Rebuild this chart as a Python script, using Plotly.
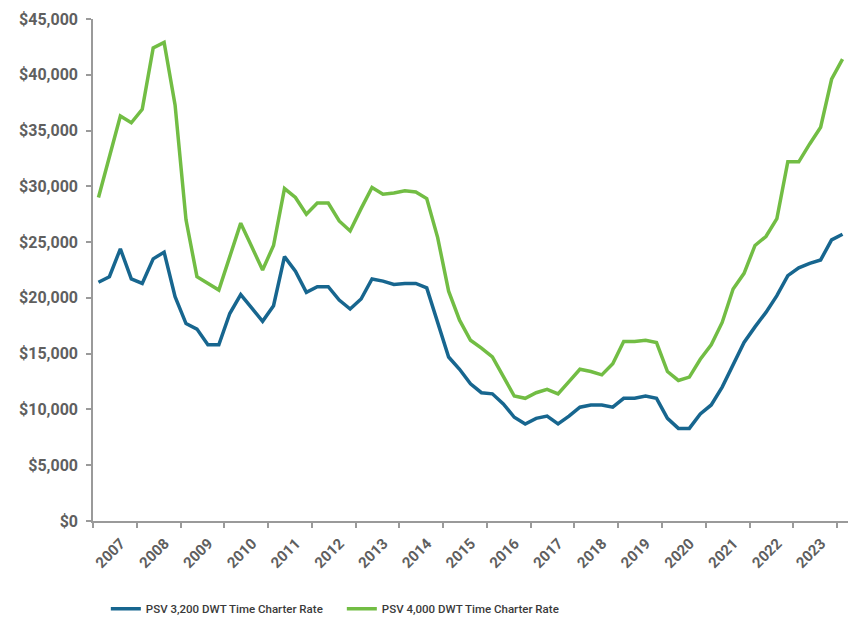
import plotly.graph_objects as go

# Quarterly time-charter rates, 2007 Q1 – 2024 Q1 (USD/day)
years = [str(y) for y in range(2007, 2024)]
quarters = [f"{y} Q{q}" for y in range(2007, 2025) for q in range(1, 5)][:69]

psv_3200 = [
    21400, 21900, 24400, 21700, 21300, 23500, 24100, 20100,
    17700, 17200, 15800, 15800, 18600, 20300, 19100, 17900,
    19300, 23700, 22400, 20500, 21000, 21000, 19800, 19000,
    19900, 21700, 21500, 21200, 21300, 21300, 20900, 17700,
    14700, 13600, 12300, 11500, 11400, 10500, 9300, 8700,
    9200, 9400, 8700, 9400, 10200, 10400, 10400, 10200,
    11000, 11000, 11200, 11000, 9200, 8300, 8300, 9600,
    10400, 12000, 14000, 16000, 17400, 18700, 20200, 22000,
    22700, 23100, 23400, 25200, 25700,
]

psv_4000 = [
    29000, 32700, 36300, 35700, 36900, 42400, 42900, 37300,
    27000, 21900, 21300, 20700, 23700, 26700, 24600, 22500,
    24700, 29800, 29000, 27500, 28500, 28500, 26900, 26000,
    28000, 29900, 29300, 29400, 29600, 29500, 28900, 25400,
    20600, 18000, 16200, 15500, 14700, 12900, 11200, 11000,
    11500, 11800, 11400, 12500, 13600, 13400, 13100, 14100,
    16100, 16100, 16200, 16000, 13400, 12600, 12900, 14500,
    15800, 17800, 20800, 22200, 24700, 25500, 27100, 32200,
    32200, 33800, 35300, 39600, 41400,
]

series_names = ["PSV 3,200 DWT Time Charter Rate", "PSV 4,000 DWT Time Charter Rate"]
series_colors = ["#17668F", "#72BD44"]

x = list(range(len(quarters)))
axis_grey = "#9A9A9A"
label_font = dict(family="Roboto", size=16, color="#5F5F5F", weight="bold")

fig = go.Figure()
for name, vals, col in zip(series_names, [psv_3200, psv_4000], series_colors):
    fig.add_trace(go.Scatter(
        x=x, y=vals, name=name, mode="lines",
        line=dict(color=col, width=3.5),
        customdata=quarters,
        hovertemplate="%{customdata}: $%{y:,}<extra>" + name + "</extra>",
    ))

# Year labels sit inside each 4-quarter block; tick marks on block edges
year_label_pos = [4 * k + 2.05 for k in range(len(years))]
year_edges = [4 * k - 0.5 for k in range(len(years) + 1)]

fig.update_layout(
    width=848, height=624,
    margin=dict(l=93, r=0, t=19, b=103, autoexpand=False),
    paper_bgcolor="white", plot_bgcolor="white",
    font=dict(family="Roboto", color="#404040"),
    showlegend=True,
    legend=dict(
        orientation="h", x=0.017, xanchor="left", y=-0.175, yanchor="middle",
        font=dict(family="Roboto", size=11.5, color="#3A3A3A", weight=500),
        itemwidth=30, entrywidth=191,
    ),
    xaxis=dict(
        range=[-0.5, len(quarters) - 0.5],
        tickmode="array", tickvals=year_label_pos, ticktext=years,
        tickangle=-45, ticks="", tickfont=dict(label_font, size=15),
        ticklabelstandoff=6,
        showline=True, linecolor=axis_grey, linewidth=1.5,
        showgrid=False, zeroline=False,
        minor=dict(tickmode="array", tickvals=year_edges, ticks="outside",
                   ticklen=5, tickcolor=axis_grey, tickwidth=1.5, showgrid=False),
    ),
    yaxis=dict(
        range=[0, 45000], tickmode="linear", tick0=0, dtick=5000,
        tickprefix="$", tickformat=",", tickfont=label_font,
        ticks="outside", ticklen=5, tickcolor=axis_grey, tickwidth=1.5,
        ticklabelstandoff=5,
        showline=True, linecolor=axis_grey, linewidth=1.5,
        showgrid=False, zeroline=False,
    ),
)

fig.write_html("out.html")
